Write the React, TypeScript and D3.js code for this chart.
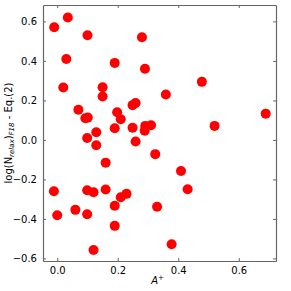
import React, { useRef, useEffect } from 'react';
import { select, scaleLinear, axisBottom, axisLeft, axisTop, axisRight } from "d3";

const aPlus = [
  -0.01, 0.035, 0.10, 0.03, 0.28, 0.19, 0.29, 0.02, 0.15, 0.15, 0.07, 0.093,
  0.101, 0.198, 0.21, 0.249, 0.259, 0.19, 0.249, 0.291, 0.289, 0.099, 0.129, 0.129,
  0.259, 0.478, 0.359, 0.689, 0.31, 0.52, 0.324, 0.409, 0.16, -0.011, 0.0, 0.06,
  0.099, 0.12, 0.099, 0.16, 0.19, 0.19, 0.21, 0.229, 0.12, 0.431, 0.33, 0.378,
];
const residual = [
  0.57, 0.62, 0.53, 0.41, 0.52, 0.39, 0.36, 0.265, 0.267, 0.22, 0.153, 0.11,
  0.113, 0.14, 0.105, 0.176, 0.187, 0.059, 0.062, 0.071, 0.046, 0.01, 0.039, -0.027,
  -0.008, 0.294, 0.23, 0.133, 0.074, 0.071, -0.072, -0.157, -0.115, -0.26, -0.381, -0.354,
  -0.255, -0.265, -0.376, -0.251, -0.333, -0.435, -0.29, -0.273, -0.557, -0.25, -0.338, -0.528,
];
const xTicks = [0, 0.2, 0.4, 0.6];
const yTicks = [-0.6, -0.4, -0.2, 0, 0.2, 0.4, 0.6];

function App() {
  const rootRef = useRef<SVGSVGElement>(null);
  const width = 291;
  const height = 291;
  const margin = { top: 5, right: 15, bottom: 30, left: 43 };

  useEffect(() => {
    const root = select(rootRef.current);
    root.selectAll('*').remove();

    const xScale = scaleLinear()
      .domain([-0.047, 0.723])
      .range([margin.left, width - margin.right]);
    const yScale = scaleLinear()
      .domain([-0.613, 0.683])
      .range([height - margin.bottom, margin.top]);

    const fmt = (d: any) => Number(d).toFixed(1).replace('-', '\u2212');
    const frame = '#666';

    const style = (g: any) => {
      g.selectAll('.domain').attr('stroke', frame).attr('stroke-width', 1.2);
      g.selectAll('.tick line').attr('stroke', frame);
      g.selectAll('text').attr('font-family', 'DejaVu Sans').attr('font-size', 10).attr('fill', '#000');
    };

    root.append('g')
      .attr('transform', `translate(0,${height - margin.bottom})`)
      .call(axisBottom(xScale).tickValues(xTicks).tickFormat(fmt).tickSizeInner(-3).tickSizeOuter(0).tickPadding(6))
      .call(style);
    root.append('g')
      .attr('transform', `translate(0,${margin.top})`)
      .call(axisTop(xScale).tickValues(xTicks).tickFormat(() => '').tickSizeInner(-3).tickSizeOuter(0))
      .call(style);
    root.append('g')
      .attr('transform', `translate(${margin.left},0)`)
      .call(axisLeft(yScale).tickValues(yTicks).tickFormat(fmt).tickSizeInner(-3).tickSizeOuter(0).tickPadding(6))
      .call(style);
    root.append('g')
      .attr('transform', `translate(${width - margin.right},0)`)
      .call(axisRight(yScale).tickValues(yTicks).tickFormat(() => '').tickSizeInner(-3).tickSizeOuter(0))
      .call(style);

    root.append('g')
      .selectAll('circle')
      .data(aPlus.map((x, i) => ({ x, y: residual[i] })))
      .join('circle')
      .attr('cx', d => xScale(d.x))
      .attr('cy', d => yScale(d.y))
      .attr('r', 5)
      .attr('fill', '#ff0000');

    // x label
    const xl = root.append('text')
      .attr('x', (margin.left + width - margin.right) / 2 - 2)
      .attr('y', 284)
      .attr('text-anchor', 'middle')
      .attr('font-family', 'DejaVu Sans')
      .attr('font-size', 10);
    xl.append('tspan').attr('font-style', 'italic').text('A');
    xl.append('tspan').attr('font-size', 7).attr('dy', -4).text('+');

    // y label
    const cy = (margin.top + height - margin.bottom) / 2;
    const yl = root.append('text')
      .attr('transform', `translate(12,${cy}) rotate(-90)`)
      .attr('text-anchor', 'middle')
      .attr('font-family', 'DejaVu Sans')
      .attr('font-size', 10);
    yl.append('tspan').text('log(N');
    yl.append('tspan').attr('font-size', 7).attr('font-style', 'italic').attr('dy', 2).text('relax');
    yl.append('tspan').attr('dy', -2).text(')');
    yl.append('tspan').attr('font-size', 7).attr('font-style', 'italic').attr('dy', 2).text('F18');
    yl.append('tspan').attr('dy', -2).text(' - Eq.(2)');
  });

  return (
    <svg ref={rootRef} width={291} height={291}
      style={{ position: 'absolute', left: 0, top: 0, background: '#fff' }} />
  );
}

export default App;
